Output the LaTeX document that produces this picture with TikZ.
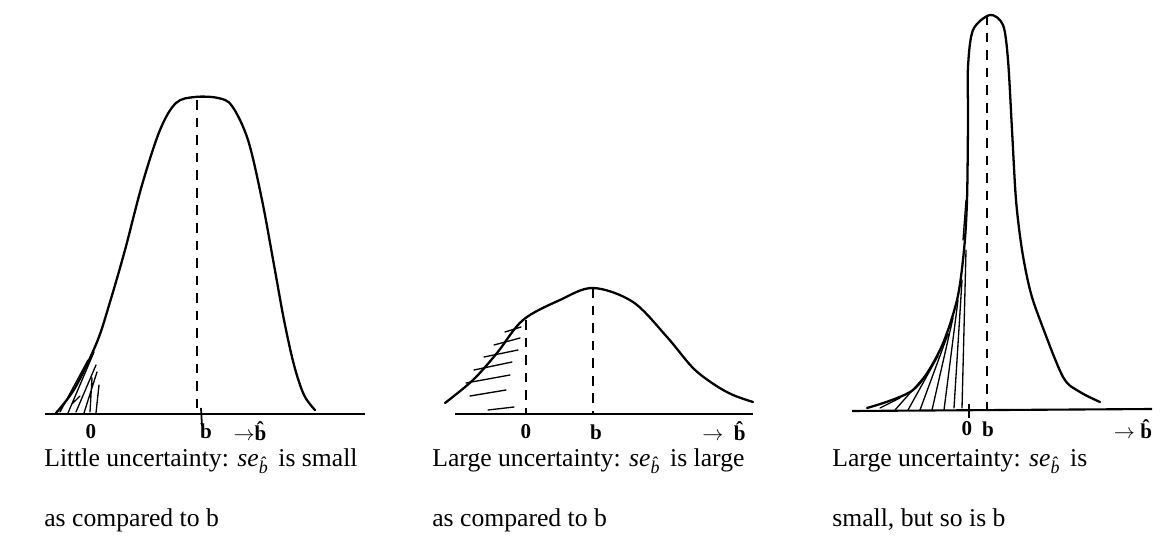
\documentclass[tikz,border=0pt]{standalone}
\usepackage{fontspec}
\setmainfont{Liberation Serif}
\usetikzlibrary{calc,positioning}

\tikzset{
  curve/.style={line width=1.3pt, line join=round, line cap=round},
  axis/.style={line width=1.2pt},
  guide/.style={line width=1pt, dash pattern=on 5.5pt off 4.5pt},
  hatch/.style={line width=0.75pt, line cap=round},
  ticklabel/.style={inner sep=0.5pt, font=\fontsize{12}{14}\selectfont\bfseries},
  caption/.style={anchor=base west, inner sep=0pt, font=\fontsize{14.6}{17}\selectfont}
}
\newcommand{\seb}{\textit{se}\textsubscript{\textit{\^{b}}}}

\begin{document}
\begin{tikzpicture}[x=0.02cm, y=-0.02cm]
  \useasboundingbox (0,0) rectangle (1162,543);
  \fill[white] (0,0) rectangle (1162,543);

  % left: narrow spread, b far from 0
  \draw[axis] (45,414) -- (365,414);
  \draw[curve] plot[smooth, tension=0.55] coordinates {
    (56,413) (75,388) (97,342) (110,302) (125,250) (142,185) (160,130)
    (176,103) (195,97) (218,98) (232,106) (248,140) (262,200) (274,265)
    (284,320) (294,365) (304,395) (315,410)};
  \draw[guide] (197,100) -- (197,414);
  \draw[line width=1pt] (201,408) -- (202,426);
  \draw[hatch] (60,412) -- (88,360) (68,413) -- (94,352) (76,412) -- (96,365)
    (84,413) -- (97,372) (90,412) -- (92,378) (96,413) -- (99,385)
    (72,404) -- (80,396);
  \node[ticklabel] (zeroA) at (91,432) {0};
  \node[ticklabel] (bA) at (206,431) {b};
  \node[ticklabel] (axA) at (250,431) {$\rightarrow$\^{b}};

  % middle: wide spread
  \draw[axis] (455,414) -- (753,414);
  \draw[curve] plot[smooth, tension=0.55] coordinates {
    (445,403) (473,380) (497,353) (523,320) (560,300) (593,288) (633,302)
    (667,337) (693,368) (715,385) (733,395) (753,402)};
  \draw[guide] (526,320) -- (526,414);
  \draw[guide] (593,288) -- (593,414);
  \draw[hatch] (505,332) -- (521,327) (494,345) -- (520,338) (484,357) -- (518,350)
    (474,370) -- (512,362) (466,383) -- (510,375) (470,396) -- (506,390)
    (488,410) -- (514,407);
  \node[ticklabel] (zeroB) at (526,432) {0};
  \node[ticklabel] (bB) at (596,432) {b};
  \node[ticklabel] (axB) at (724,431) {$\rightarrow$\ \ \^{b}};

  % right: narrow spread, but b close to 0
  \draw[axis] (852,411) -- (1152,409);
  \draw[curve] plot[smooth, tension=0.5] coordinates {
    (867,408) (913,390) (940,350) (957,300) (964,250) (967,200) (968,120)
    (968,67) (973,30) (990,15) (1003,25) (1008,60) (1012,130) (1016,200)
    (1022,250) (1030,290) (1040,320) (1063,377) (1080,392) (1100,402)};
  \draw[guide] (987,15) -- (987,411);
  \draw[line width=1pt] (969,404) -- (969,418);
  \draw[hatch] (880,408) -- (900,398) (895,410) -- (925,376) (908,410) -- (938,356)
    (920,410) -- (948,334) (932,410) -- (953,318) (944,410) -- (958,300)
    (954,408) -- (962,280) (962,408) -- (966,250) (963,240) -- (966,200);
  \node[ticklabel] (zeroC) at (967,429) {0};
  \node[ticklabel] (bC) at (988,429) {b};
  \node[ticklabel] (axC) at (1133,429) {$\rightarrow$\ \^{b}};

  % captions
  \node[caption] (capAa) at (44,466) {Little uncertainty: \seb\hspace{0.12em}is small};
  \node[caption] (capAb) at (44,526) {as compared to b};
  \node[caption] (capBa) at (432,466) {Large uncertainty: \seb\hspace{0.12em}is large};
  \node[caption] (capBb) at (432,526) {as compared to b};
  \node[caption] (capCa) at (832,466) {Large uncertainty: \seb\hspace{0.12em}is};
  \node[caption] (capCb) at (832,526) {small, but so is b};
\end{tikzpicture}
\end{document}
